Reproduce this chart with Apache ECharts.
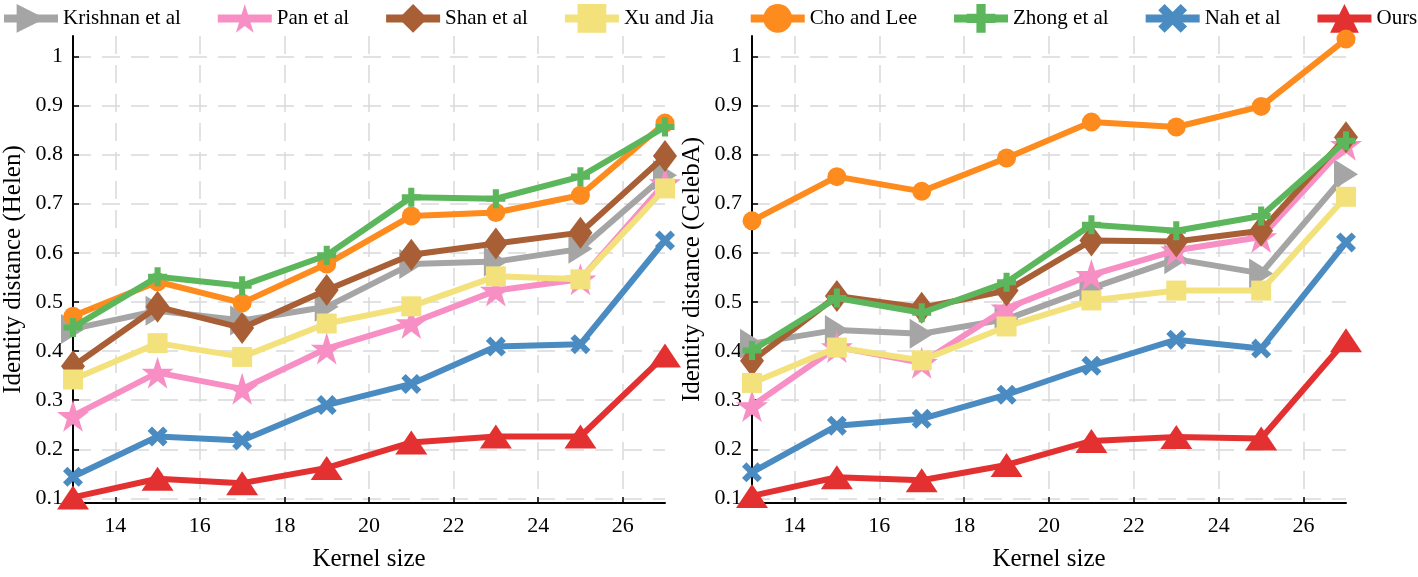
<!DOCTYPE html>
<html>
<head>
<meta charset="utf-8">
<script src="https://cdn.jsdelivr.net/npm/echarts@6/dist/echarts.min.js"></script>
<style>
html,body{margin:0;padding:0;background:#fff;}
#chart{width:1418px;height:577px;}
</style>
</head>
<body>
<div id="chart"></div>
<script>
// ---- data ----
const kernelSizes = [13, 15, 17, 19, 21, 23, 25, 27];
const xTickValues = [14, 16, 18, 20, 22, 24, 26];
const yTickValues = [0.1, 0.2, 0.3, 0.4, 0.5, 0.6, 0.7, 0.8, 0.9, 1.0];
const methodNames = ['Krishnan et al', 'Pan et al', 'Shan et al', 'Xu and Jia', 'Cho and Lee', 'Zhong et al', 'Nah et al', 'Ours'];

// Helen
const krishnanHelen = [0.445, 0.482, 0.462, 0.490, 0.577, 0.582, 0.608, 0.758];
const panHelen      = [0.268, 0.356, 0.323, 0.405, 0.457, 0.523, 0.546, 0.742];
const shanHelen     = [0.369, 0.490, 0.447, 0.524, 0.596, 0.619, 0.641, 0.797];
const xuHelen       = [0.342, 0.416, 0.388, 0.456, 0.491, 0.552, 0.546, 0.731];
const choHelen      = [0.471, 0.541, 0.498, 0.577, 0.675, 0.682, 0.717, 0.864];
const zhongHelen    = [0.448, 0.551, 0.533, 0.595, 0.713, 0.710, 0.755, 0.856];
const nahHelen      = [0.144, 0.226, 0.218, 0.290, 0.333, 0.409, 0.414, 0.625];
const oursHelen     = [0.102, 0.140, 0.131, 0.162, 0.214, 0.226, 0.226, 0.391];

// CelebA
const krishnanCeleb = [0.415, 0.443, 0.435, 0.465, 0.528, 0.587, 0.558, 0.760];
const panCeleb      = [0.288, 0.408, 0.376, 0.487, 0.555, 0.605, 0.632, 0.820];
const shanCeleb     = [0.380, 0.512, 0.488, 0.523, 0.625, 0.623, 0.645, 0.835];
const xuCeleb       = [0.335, 0.407, 0.381, 0.450, 0.503, 0.523, 0.523, 0.714];
const choCeleb      = [0.665, 0.755, 0.725, 0.793, 0.866, 0.856, 0.898, 1.035];
const zhongCeleb    = [0.401, 0.508, 0.478, 0.540, 0.657, 0.645, 0.675, 0.828];
const nahCeleb      = [0.153, 0.248, 0.262, 0.311, 0.370, 0.423, 0.405, 0.621];
const oursCeleb     = [0.105, 0.143, 0.137, 0.168, 0.217, 0.225, 0.222, 0.422];

const helenSets = [krishnanHelen, panHelen, shanHelen, xuHelen, choHelen, zhongHelen, nahHelen, oursHelen];
const celebSets = [krishnanCeleb, panCeleb, shanCeleb, xuCeleb, choCeleb, zhongCeleb, nahCeleb, oursCeleb];

// ---- styles ----
const colors = ['#a5a5a5', '#f78fc5', '#a95f36', '#f3e27c', '#fd8b1e', '#5cb65b', '#4a8bc2', '#e33131'];
const STAR = 'path://M50,0 L61.2,34.5 L97.6,34.5 L68.2,55.9 L79.4,90.5 L50,69.1 L20.6,90.5 L31.8,55.9 L2.4,34.5 L38.8,34.5 Z';
const PLUS = 'path://M34,0 H66 V34 H100 V66 H66 V100 H34 V66 H0 V34 H34 Z';
const XMARK = 'path://M22,0 L50,28 L78,0 L100,22 L72,50 L100,78 L78,100 L50,72 L22,100 L0,78 L28,50 L0,22 Z';
const symbols = [
  {symbol: 'triangle', size: [30, 24], rotate: -90},
  {symbol: STAR, size: 32, rotate: 0},
  {symbol: 'diamond', size: [24, 32], rotate: 0},
  {symbol: 'rect', size: 20, rotate: 0},
  {symbol: 'circle', size: 19, rotate: 0},
  {symbol: PLUS, size: 19, rotate: 0},
  {symbol: XMARK, size: 20, rotate: 0},
  {symbol: 'triangle', size: [32, 24], rotate: 0}
];

const FONT = "'Liberation Serif', 'Times New Roman', serif";
const yMin = 0.0906, yMax = 1.0413;

function xAxisCfg(gi) {
  return {
    type: 'value', gridIndex: gi, min: 13, max: 27,
    name: 'Kernel size', nameLocation: 'middle', nameGap: 44,
    nameTextStyle: {fontFamily: FONT, fontSize: 25, color: '#000'},
    axisLine: {show: true, lineStyle: {color: '#000', width: 2}},
    axisTick: {show: true, inside: true, length: 6, customValues: xTickValues, lineStyle: {color: '#000', width: 1.5}},
    axisLabel: {customValues: xTickValues, fontFamily: FONT, fontSize: 22, color: '#000', margin: 12},
    splitLine: {show: true, lineStyle: {color: '#d9d9dd', width: 1.5, type: [18, 11]}}
  };
}
function yAxisCfg(gi, title) {
  return {
    type: 'value', gridIndex: gi, min: yMin, max: yMax,
    name: title, nameLocation: 'middle', nameGap: 47,
    nameTextStyle: {fontFamily: FONT, fontSize: 25, color: '#000'},
    axisLine: {show: true, lineStyle: {color: '#000', width: 2}},
    axisTick: {show: true, inside: true, length: 6, customValues: yTickValues, lineStyle: {color: '#000', width: 1.5}},
    axisLabel: {customValues: yTickValues, fontFamily: FONT, fontSize: 22, color: '#000', margin: 10,
      formatter: v => String(Math.round(v * 10) / 10)},
    splitLine: {show: true, lineStyle: {color: '#d9d9dd', width: 1.5, type: [18, 11]}}
  };
}

const series = [];
[helenSets, celebSets].forEach((sets, gi) => {
  sets.forEach((vals, i) => {
    series.push({
      name: methodNames[i], type: 'line', xAxisIndex: gi, yAxisIndex: gi,
      data: kernelSizes.map((k, j) => [k, vals[j]]),
      symbol: symbols[i].symbol, symbolSize: symbols[i].size, symbolRotate: symbols[i].rotate,
      symbolKeepAspect: false, showAllSymbol: true, clip: false,
      lineStyle: {color: colors[i], width: 6},
      itemStyle: {color: colors[i], borderWidth: 0},
      emphasis: {disabled: true}, animation: false, z: 2 + i
    });
  });
});

const chart = echarts.init(document.getElementById('chart'), null, {renderer: 'canvas'});
chart.setOption({
  animation: false,
  backgroundColor: '#fff',
  legend: {
    data: methodNames, left: 0, top: 4, width: 1418, padding: 0,
    itemWidth: 54, itemHeight: 36, itemGap: 33,
    textStyle: {fontFamily: FONT, fontSize: 21, color: '#000'},
    lineStyle: {width: 8}
  },
  grid: [
    {left: 71, top: 36, width: 594, height: 476, containLabel: false},
    {left: 752, top: 36, width: 594, height: 476, containLabel: false}
  ],
  xAxis: [xAxisCfg(0), xAxisCfg(1)],
  yAxis: [yAxisCfg(0, 'Identity distance (Helen)'), yAxisCfg(1, 'Identity distance (CelebA)')],
  series: series
});
</script>
</body>
</html>
